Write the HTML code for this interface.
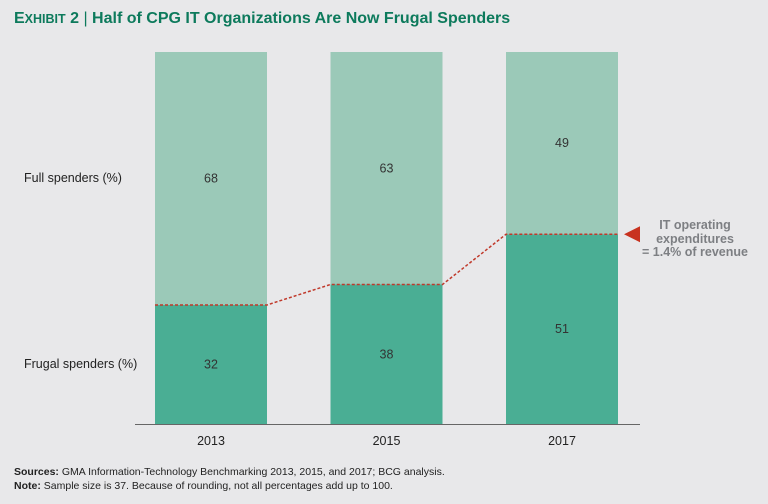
<!DOCTYPE html>
<html><head><meta charset="utf-8"><style>
body{margin:0;background:#e8e8ea;font-family:"Liberation Sans",sans-serif;}
#wrap{position:relative;width:768px;height:504px;overflow:hidden;background:#e8e8ea;}
.t{position:absolute;white-space:nowrap;}
</style></head><body>
<div id="wrap">
<div class="t" style="left:14px;top:10px;font-size:16px;font-weight:bold;color:#0d7a5c;"><span>E</span><span style="font-size:12.5px">XHIBIT</span> 2 <span style="font-weight:normal">|</span> Half of CPG IT Organizations Are Now Frugal Spenders</div>
<svg id="svg" width="768" height="504" style="position:absolute;left:0;top:0"></svg>
<div class="t" style="left:24px;top:171px;font-size:12.5px;color:#222;">Full spenders (%)</div>
<div class="t" style="left:24px;top:357px;font-size:12.5px;color:#222;">Frugal spenders (%)</div>
<div class="t" style="left:640px;top:219px;width:110px;text-align:center;font-size:12.5px;font-weight:bold;color:#7d7f83;line-height:13.5px;">IT operating<br>expenditures<br>= 1.4% of revenue</div>
<div class="t" style="left:14px;top:465px;font-size:10.5px;color:#222;line-height:14px;"><b>Sources:</b> GMA Information-Technology Benchmarking 2013, 2015, and 2017; BCG analysis.<br><b>Note:</b> Sample size is 37. Because of rounding, not all percentages add up to 100.</div>
</div>
<script>
const years=["2013","2015","2017"];
const frugal=[32,37.5,51];
const full=[68,63,49];
const svg=document.getElementById('svg');
const NS="http://www.w3.org/2000/svg";
const top0=52,bottom0=424,left0=155,step=175.5,bw=112;
const y=v=>bottom0-(v/100)*(bottom0-top0);
const x=i=>left0+i*step;
function mk(tag,attrs){const e=document.createElementNS(NS,tag);for(const k in attrs)e.setAttribute(k,attrs[k]);svg.appendChild(e);return e;}
const pts=[];
years.forEach((yr,i)=>{
  const x0=x(i),yb=y(frugal[i]);
  const r1=mk('rect',{x:x0,y:top0,width:bw,height:yb-top0,fill:'#9bc9b8'});
  
  
  const r2=mk('rect',{x:x0,y:yb,width:bw,height:bottom0-yb,fill:'#4aae94'});
  
  
  const t1=mk('text',{x:x0+bw/2,y:(top0+yb)/2+4,'text-anchor':'middle','font-size':12.5,fill:'#333','font-family':'Liberation Sans'});
  t1.textContent=full[i];
  
  
  const t2=mk('text',{x:x0+bw/2,y:(yb+bottom0)/2+4,'text-anchor':'middle','font-size':12.5,fill:'#333','font-family':'Liberation Sans'});
  t2.textContent=Math.round(frugal[i]);
  
  
  const t3=mk('text',{x:x0+bw/2,y:bottom0+21,'text-anchor':'middle','font-size':12.5,fill:'#222','font-family':'Liberation Sans'});
  t3.textContent=yr;
  
  
  pts.push([x0,yb],[x0+bw,yb]);
});
const ax=mk('line',{x1:135,x2:640,y1:bottom0+0.5,y2:bottom0+0.5,stroke:'#666','stroke-width':1});


const pl=mk('polyline',{points:pts.map(p=>p.join(',')).join(' '),fill:'none',stroke:'#c0392b','stroke-width':1.5,'stroke-dasharray':'3,2'});


const ly=y(frugal[2]);
const tri=mk('polygon',{points:`624,${ly} 640,${ly-8} 640,${ly+8}`,fill:'#c8321f'});


</script>
</body></html>
